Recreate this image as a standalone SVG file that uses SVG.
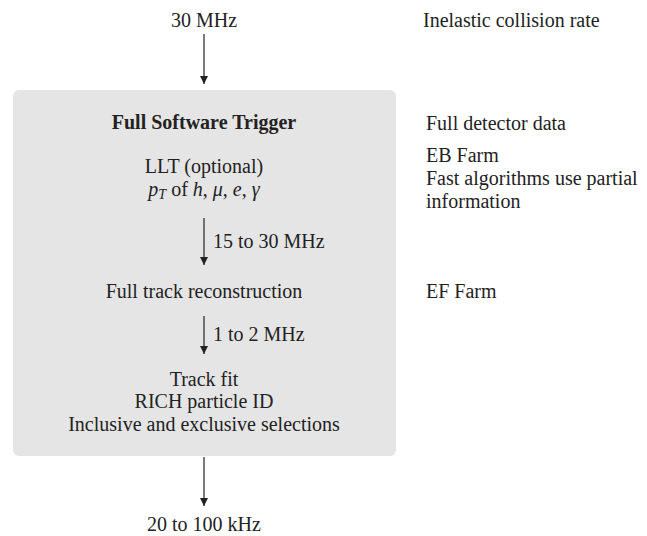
<svg xmlns="http://www.w3.org/2000/svg" width="647" height="536" viewBox="0 0 647 536">
<style>
text{font-family:'Liberation Serif','DejaVu Serif','Times New Roman',Times,serif;font-size:20px;fill:#222}
.c{text-anchor:middle}
.b{font-weight:bold}
.conn line{stroke:#222;stroke-width:1.2}
</style>
<defs>
<marker id="ah" viewBox="0 0 10 10" refX="10" refY="5" markerWidth="9" markerHeight="8" markerUnits="userSpaceOnUse" orient="auto">
<path d="M0,0 L10,5 L0,10 z" fill="#222"/>
</marker>
</defs>
<rect width="647" height="536" fill="#fff"/>
<g id="box">
<rect x="13" y="90" width="383" height="366" rx="6" fill="#e5e5e5"/>
</g>
<g id="input"><text class="c" x="204" y="27">30 MHz</text></g>
<g id="fst"><text class="c b" x="204" y="129">Full Software Trigger</text></g>
<g id="llt"><text class="c" x="204" y="173">LLT (optional)</text>
<text class="c" x="204" y="196"><tspan font-style="italic">p</tspan><tspan font-style="italic" font-size="14" dy="3">T</tspan><tspan dy="-3"> of </tspan><tspan font-style="italic">h</tspan>, <tspan font-style="italic">μ</tspan>, <tspan font-style="italic">e</tspan>, <tspan font-style="italic">γ</tspan></text></g>
<g id="ftr"><text class="c" x="204" y="298">Full track reconstruction</text></g>
<g id="fit"><text class="c" x="204" y="386">Track fit</text>
<text class="c" x="204" y="408">RICH particle ID</text>
<text class="c" x="204" y="431">Inclusive and exclusive selections</text></g>
<g id="output"><text class="c" x="204" y="531">20 to 100 kHz</text></g>
<g id="notes">
<text x="423" y="27">Inelastic collision rate</text>
<text x="426" y="130">Full detector data</text>
<text x="426" y="162">EB Farm</text>
<text x="426" y="185">Fast algorithms use partial</text>
<text x="426" y="208">information</text>
<text x="426" y="298">EF Farm</text>
</g>
<g class="conn" id="connectors">
<line x1="204" y1="34" x2="204" y2="84" marker-end="url(#ah)"/>
<line x1="204" y1="218" x2="204" y2="265" marker-end="url(#ah)"/>
<line x1="204" y1="316" x2="204" y2="354" marker-end="url(#ah)"/>
<line x1="204" y1="457" x2="204" y2="506" marker-end="url(#ah)"/>
<text x="213" y="248">15 to 30 MHz</text>
<text x="213" y="341">1 to 2 MHz</text>
</g>
</svg>
